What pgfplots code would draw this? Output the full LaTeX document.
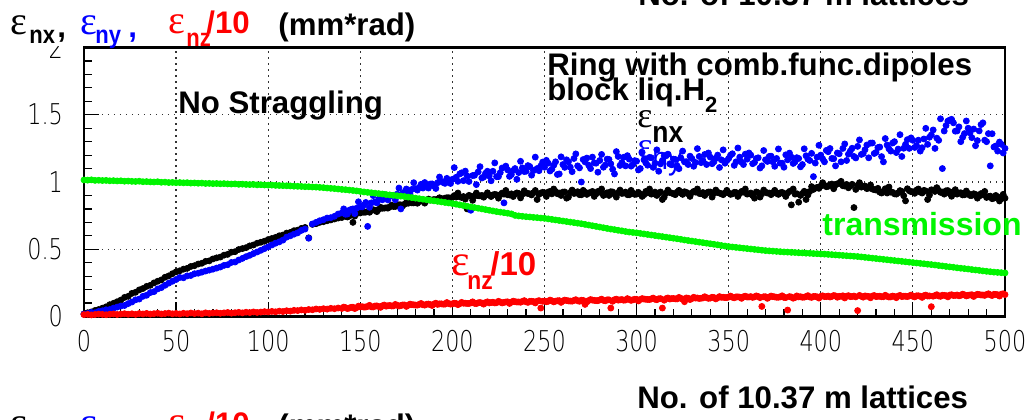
\documentclass[border=0pt]{standalone}
\usepackage{pgfplots}
\pgfplotsset{compat=1.18}
\usepackage{pgfplotstable}
\usepackage{graphicx}
\usepackage{fontspec}
\setmainfont{Liberation Sans}
\newfontfamily\epsfont{Liberation Serif}
\newfontfamily\tickfam[FakeStretch=0.78]{DejaVu Sans ExtraLight}
\newfontfamily\condfam[FakeStretch=0.88]{Liberation Sans}
\definecolor{rgreen}{RGB}{0,245,0}
\definecolor{rred}{RGB}{255,0,0}
\definecolor{rblue}{RGB}{0,0,255}
\newcommand\eps[1]{{\fontsize{#1}{#1}\selectfont\epsfont ε}}
\newcommand\bigb{\fontsize{15.6}{17}\selectfont\bfseries}
\newcommand\subb{\fontsize{12.5}{13}\selectfont\condfam\bfseries}
\newcommand\tickfont{\fontsize{14.3}{15}\selectfont\tickfam}

\pgfplotstableread{
x g k b r
0 1.015 0.020 0.018 0.014
2 1.014 0.028 0.022 0.016
4 1.016 0.034 0.030 0.012
6 1.012 0.045 0.028 0.015
8 1.013 0.052 0.038 0.018
10 1.011 0.062 0.042 0.016
12 1.012 0.072 0.050 0.013
14 1.009 0.088 0.052 0.017
16 1.010 0.098 0.062 0.019
18 1.008 0.110 0.070 0.015
20 1.009 0.122 0.078 0.018
22 1.006 0.142 0.082 0.021
24 1.007 0.150 0.096 0.017
26 1.005 0.172 0.108 0.020
28 1.004 0.180 0.124 0.016
30 1.006 0.198 0.130 0.022
32 1.002 0.208 0.150 0.019
34 1.003 0.224 0.158 0.023
36 1.001 0.232 0.178 0.018
38 1.000 0.250 0.185 0.021
40 1.002 0.262 0.205 0.024
42 0.998 0.272 0.215 0.019
44 0.999 0.292 0.232 0.022
46 0.996 0.302 0.248 0.025
48 0.997 0.318 0.262 0.020
50 0.995 0.332 0.275 0.023
52 0.996 0.340 0.290 0.019
54 0.994 0.352 0.288 0.024
56 0.995 0.358 0.302 0.021
58 0.992 0.372 0.305 0.026
60 0.993 0.378 0.318 0.022
62 0.991 0.390 0.322 0.025
64 0.992 0.396 0.330 0.020
66 0.989 0.410 0.338 0.027
68 0.990 0.414 0.345 0.023
70 0.988 0.428 0.352 0.026
72 0.989 0.436 0.360 0.028
74 0.987 0.442 0.368 0.024
76 0.988 0.456 0.380 0.027
78 0.986 0.462 0.385 0.030
80 0.985 0.478 0.402 0.025
82 0.986 0.482 0.405 0.028
84 0.983 0.498 0.420 0.031
86 0.984 0.505 0.432 0.027
88 0.982 0.512 0.445 0.032
90 0.981 0.525 0.455 0.029
92 0.982 0.532 0.468 0.034
94 0.979 0.545 0.480 0.030
96 0.980 0.552 0.492 0.033
98 0.978 0.560 0.505 0.036
100 0.977 0.572 0.518 0.034
102 0.977 0.580 0.532 0.038
104 0.975 0.588 0.545 0.035
106 0.974 0.600 0.555 0.040
108 0.973 0.606 0.568 0.037
110 0.972 0.620 0.590 0.043
112 0.971 0.625 0.600 0.040
114 0.969 0.638 0.612 0.046
116 0.968 0.642 0.622 0.044
118 0.967 0.655 0.640 0.049
120 0.965 0.662 0.650 0.046
122 0.965 0.585 0.582 0.052
124 0.963 0.685 0.688 0.050
126 0.962 0.690 0.700 0.056
128 0.960 0.700 0.712 0.053
130 0.958 0.705 0.720 0.058
132 0.955 0.712 0.732 0.055
134 0.953 0.718 0.735 0.061
136 0.951 0.725 0.745 0.058
138 0.948 0.732 0.762 0.063
140 0.945 0.736 0.770 0.060
142 0.943 0.745 0.760 0.066
144 0.940 0.748 0.790 0.063
146 0.937 0.700 0.800 0.069
148 0.934 0.765 0.805 0.066
150 0.930 0.770 0.816 0.072
152 0.926 0.775 0.830 0.070
154 0.923 0.780 0.670 0.075
156 0.920 0.788 0.845 0.072
158 0.917 0.790 0.852 0.078
160 0.914 0.796 0.870 0.074
162 0.911 0.805 0.868 0.080
164 0.907 0.808 0.885 0.077
166 0.904 0.815 0.895 0.082
168 0.901 0.818 0.900 0.079
170 0.898 0.826 0.910 0.084
172 0.895 0.830 0.800 0.081
174 0.892 0.835 0.925 0.086
176 0.888 0.842 0.930 0.083
178 0.884 0.845 0.945 0.088
180 0.880 0.850 0.950 0.085
182 0.876 0.854 0.960 0.090
184 0.872 0.858 0.955 0.087
186 0.868 0.862 0.975 0.091
188 0.864 0.866 0.985 0.088
190 0.860 0.870 0.970 0.093
192 0.856 0.874 0.995 0.090
194 0.852 0.877 1.005 0.094
196 0.848 0.880 0.990 0.092
198 0.844 0.883 1.010 0.096
200 0.840 0.886 1.020 0.094
202 0.835 0.888 1.035 0.097
204 0.830 0.890 1.060 0.095
206 0.825 0.892 1.010 0.099
208 0.820 0.800 1.045 0.097
210 0.815 0.895 0.790 0.101
212 0.810 0.896 1.050 0.098
214 0.805 0.898 1.075 0.102
216 0.800 0.900 1.030 0.100
218 0.795 0.901 1.065 0.104
220 0.790 0.903 1.045 0.101
222 0.785 0.904 1.080 0.106
224 0.780 0.905 1.040 0.103
226 0.776 0.906 1.070 0.107
228 0.772 0.910 0.845 0.105
230 0.768 0.905 1.090 0.109
232 0.763 0.912 1.055 0.106
234 0.752 0.908 1.100 0.110
236 0.748 0.915 1.070 0.108
238 0.745 0.910 1.105 0.112
240 0.742 0.918 1.080 0.109
242 0.740 0.912 1.115 0.113
244 0.737 0.920 1.085 0.111
246 0.735 0.870 1.100 0.114
248 0.732 0.918 1.120 0.063
250 0.730 0.920 1.110 0.115
252 0.726 0.925 1.140 0.113
254 0.722 0.912 1.095 0.117
256 0.718 0.930 1.150 0.114
258 0.714 0.918 1.060 0.118
260 0.710 0.925 1.130 0.116
262 0.706 0.880 1.165 0.119
264 0.702 0.922 1.110 0.115
266 0.698 0.915 1.175 0.120
268 0.694 0.928 1.120 0.117
270 0.690 0.905 1.000 0.121
272 0.685 0.925 1.150 0.090
274 0.680 0.918 1.125 0.119
276 0.675 0.930 1.185 0.122
278 0.670 0.912 1.140 0.118
280 0.665 0.925 1.160 0.123
282 0.660 0.900 1.110 0.120
284 0.655 0.920 1.170 0.124
286 0.650 0.928 1.135 0.063
288 0.646 0.910 1.060 0.125
290 0.641 0.922 1.190 0.122
292 0.637 0.915 1.145 0.126
294 0.632 0.925 1.120 0.123
296 0.628 0.905 1.170 0.127
298 0.625 0.918 1.130 0.124
300 0.622 0.910 1.155 0.128
302 0.618 0.912 1.100 0.126
304 0.614 0.905 1.165 0.130
306 0.610 0.920 1.125 0.127
308 0.606 0.910 1.180 0.131
310 0.602 0.925 1.140 0.128
312 0.598 0.915 1.080 0.132
314 0.594 0.870 1.160 0.063
316 0.590 0.918 1.195 0.133
318 0.586 0.922 1.135 0.130
320 0.582 0.912 1.170 0.134
322 0.578 0.925 1.120 0.131
324 0.574 0.918 1.180 0.135
326 0.569 0.928 1.150 0.110
328 0.565 0.912 1.130 0.136
330 0.561 0.920 1.175 0.133
332 0.557 0.925 1.145 0.137
334 0.553 0.915 1.190 0.134
336 0.549 0.922 1.160 0.138
338 0.545 0.918 1.130 0.140
340 0.541 0.926 1.185 0.137
342 0.537 0.915 1.150 0.141
344 0.533 0.923 1.200 0.139
346 0.528 0.912 1.165 0.143
348 0.524 0.920 1.140 0.141
350 0.520 0.918 1.175 0.145
352 0.517 0.912 1.210 0.143
354 0.514 0.922 1.150 0.146
356 0.511 0.915 1.185 0.144
358 0.508 0.925 1.130 0.147
360 0.505 0.910 1.170 0.145
362 0.502 0.918 1.200 0.148
364 0.499 0.880 1.145 0.146
366 0.496 0.920 1.180 0.149
368 0.493 0.912 1.120 0.075
370 0.490 0.925 1.165 0.147
372 0.488 0.918 1.190 0.144
374 0.486 0.922 1.150 0.148
376 0.484 0.915 1.175 0.143
378 0.482 0.920 1.140 0.146
380 0.480 0.912 1.110 0.142
382 0.479 0.918 1.165 0.048
384 0.477 0.830 1.185 0.145
386 0.476 0.910 1.150 0.141
388 0.474 0.850 1.175 0.146
390 0.473 0.915 1.130 0.143
392 0.471 0.870 1.195 0.148
394 0.470 0.930 1.160 0.145
396 0.468 0.945 1.040 0.149
398 0.467 0.960 1.185 0.146
400 0.465 0.970 1.200 0.150
402 0.464 0.975 1.150 0.148
404 0.462 0.968 1.225 0.152
406 0.460 0.985 1.175 0.149
408 0.458 0.978 1.120 0.153
410 0.456 0.990 1.210 0.150
412 0.454 0.972 1.250 0.154
414 0.452 0.982 1.160 0.151
416 0.450 0.970 1.230 0.148
418 0.448 0.810 1.190 0.152
420 0.446 0.975 1.265 0.044
422 0.443 0.962 1.205 0.150
424 0.440 0.970 1.240 0.153
426 0.437 0.955 1.180 0.149
428 0.434 0.948 1.290 0.152
430 0.431 0.940 1.220 0.148
432 0.428 0.925 1.260 0.151
434 0.425 0.930 1.150 0.147
436 0.422 0.918 1.275 0.150
438 0.419 0.925 1.230 0.146
440 0.416 0.912 1.300 0.149
442 0.413 0.920 1.245 0.152
444 0.410 0.930 1.190 0.148
446 0.407 0.860 1.280 0.151
448 0.404 0.935 1.250 0.153
450 0.401 0.928 1.310 0.150
452 0.398 0.940 1.270 0.154
454 0.395 0.925 1.230 0.151
456 0.392 0.938 1.320 0.155
458 0.389 0.870 1.280 0.152
460 0.386 0.942 1.350 0.073
462 0.383 0.930 1.250 0.156
464 0.379 0.938 1.310 0.153
466 0.376 0.925 1.100 0.158
468 0.372 0.935 1.420 0.155
470 0.369 0.915 1.460 0.159
472 0.366 0.928 1.440 0.156
474 0.362 0.910 1.380 0.160
476 0.359 0.920 1.300 0.157
478 0.356 0.905 1.360 0.161
480 0.353 0.915 1.400 0.158
482 0.349 0.900 1.330 0.162
484 0.346 0.908 1.270 0.159
486 0.343 0.895 1.380 0.163
488 0.339 0.905 1.440 0.160
490 0.336 0.885 1.300 0.164
492 0.333 0.895 1.120 0.161
494 0.330 0.880 1.260 0.165
496 0.328 0.890 1.230 0.162
498 0.326 0.875 1.280 0.166
500 0.324 0.880 1.250 0.163
}\data

\pgfplotstableread{
x k b r
141 0.748 0.800 0.070
143 0.740 0.762 0.059
145 0.755 0.796 0.068
147 0.747 0.765 0.059
149 0.773 0.853 0.077
151 0.788 0.815 0.073
153 0.776 0.848 0.071
155 0.775 0.812 0.083
157 0.794 0.899 0.071
159 0.780 0.845 0.079
161 0.812 0.891 0.068
163 0.806 0.906 0.085
165 0.806 0.867 0.080
167 0.828 0.900 0.078
169 0.818 0.868 0.090
171 0.831 0.955 0.078
173 0.822 0.916 0.086
175 0.846 0.948 0.075
177 0.859 0.910 0.092
179 0.845 0.995 0.087
181 0.842 0.940 0.085
183 0.859 0.983 0.097
185 0.843 0.996 0.085
187 0.873 0.955 0.093
189 0.866 0.986 0.082
191 0.863 0.952 0.099
193 0.883 1.037 0.094
195 0.872 0.996 0.092
197 0.883 1.027 0.104
199 0.872 0.989 0.092
201 0.899 1.107 0.099
203 0.918 1.005 0.088
205 0.885 1.068 0.105
207 0.873 1.081 0.099
209 0.901 1.004 0.097
211 0.864 1.048 0.109
213 0.918 0.981 0.096
215 0.897 1.114 0.104
217 0.887 1.037 0.092
219 0.920 1.080 0.109
221 0.892 1.009 0.104
223 0.908 1.142 0.101
225 0.880 1.040 0.113
227 0.918 1.104 0.101
229 0.937 1.118 0.108
231 0.904 1.042 0.097
233 0.892 1.086 0.114
235 0.919 1.020 0.108
237 0.882 1.154 0.106
239 0.935 1.078 0.118
241 0.915 1.122 0.105
243 0.904 1.051 0.113
245 0.937 1.185 0.101
247 0.908 1.084 0.118
249 0.923 1.148 0.113
251 0.893 1.161 0.110
253 0.930 1.082 0.122
255 0.948 1.124 0.109
257 0.913 1.056 0.117
259 0.900 1.187 0.105
261 0.926 1.109 0.122
263 0.888 1.150 0.116
265 0.940 1.077 0.114
267 0.918 1.209 0.125
269 0.906 1.105 0.113
271 0.938 1.167 0.120
273 0.908 1.178 0.109
275 0.923 1.100 0.126
277 0.893 1.142 0.120
279 0.930 1.073 0.118
281 0.948 1.205 0.129
283 0.913 1.126 0.117
285 0.900 1.168 0.124
287 0.926 1.095 0.113
289 0.888 1.226 0.129
291 0.940 1.123 0.124
293 0.918 1.184 0.121
295 0.906 1.196 0.133
297 0.938 1.118 0.120
299 0.908 1.159 0.128
301 0.923 1.090 0.116
303 0.893 1.221 0.133
305 0.930 1.142 0.128
307 0.948 1.183 0.126
309 0.913 1.109 0.137
311 0.900 1.239 0.125
313 0.926 1.135 0.133
315 0.888 1.196 0.121
317 0.940 1.207 0.138
319 0.918 1.128 0.133
321 0.906 1.168 0.131
323 0.938 1.099 0.142
325 0.908 1.230 0.130
327 0.923 1.151 0.138
329 0.893 1.192 0.126
331 0.930 1.117 0.143
333 0.948 1.248 0.138
335 0.913 1.144 0.136
337 0.900 1.205 0.147
339 0.926 1.216 0.135
341 0.888 1.136 0.143
343 0.940 1.177 0.131
345 0.918 1.108 0.148
347 0.906 1.239 0.143
349 0.938 1.160 0.141
351 0.908 1.200 0.152
353 0.923 1.124 0.139
355 0.893 1.253 0.146
357 0.930 1.148 0.135
359 0.948 1.207 0.151
361 0.913 1.216 0.145
363 0.900 1.136 0.142
365 0.926 1.175 0.153
367 0.888 1.104 0.140
369 0.940 1.234 0.147
371 0.918 1.153 0.135
373 0.906 1.192 0.152
375 0.938 1.117 0.146
377 0.908 1.246 0.143
379 0.923 1.140 0.154
381 0.893 1.202 0.141
383 0.930 1.215 0.148
385 0.948 1.138 0.136
387 0.913 1.181 0.153
389 0.900 1.113 0.147
391 0.931 1.247 0.144
393 0.904 1.170 0.155
395 0.966 1.213 0.142
397 0.954 1.141 0.149
399 0.953 1.273 0.137
401 0.995 1.172 0.154
403 0.965 1.235 0.148
405 0.980 1.249 0.145
407 0.950 1.173 0.156
409 0.987 1.216 0.143
411 1.005 1.150 0.150
413 0.970 1.283 0.138
415 0.957 1.207 0.155
417 0.983 1.251 0.149
419 0.945 1.179 0.146
421 0.995 1.313 0.157
423 0.968 1.211 0.144
425 0.951 1.275 0.151
427 0.978 1.289 0.139
429 0.943 1.212 0.156
431 0.953 1.256 0.150
433 0.918 1.189 0.147
435 0.950 1.323 0.158
437 0.963 1.247 0.145
439 0.923 1.290 0.152
441 0.910 1.219 0.140
443 0.936 1.352 0.157
445 0.898 1.251 0.151
447 0.950 1.315 0.148
449 0.928 1.328 0.159
451 0.916 1.257 0.146
453 0.948 1.311 0.154
455 0.918 1.255 0.142
457 0.933 1.399 0.159
459 0.903 1.333 0.153
461 0.940 1.387 0.151
463 0.958 1.326 0.162
465 0.923 1.470 0.150
467 0.910 1.379 0.157
469 0.936 1.453 0.146
471 0.894 1.466 0.162
473 0.943 1.378 0.157
475 0.918 1.410 0.154
477 0.904 1.332 0.166
479 0.933 1.454 0.153
481 0.900 1.365 0.160
483 0.913 1.394 0.149
485 0.880 1.308 0.165
487 0.914 1.427 0.160
489 0.930 1.311 0.157
491 0.892 1.360 0.169
493 0.876 1.359 0.156
495 0.900 1.268 0.164
497 0.859 1.297 0.152
499 0.908 1.216 0.169
}\dataodd

\begin{document}
\begin{tikzpicture}
\useasboundingbox (0,0) rectangle (517pt,-209.5pt);
\begin{axis}[
  at={(42pt,-158.25pt)}, anchor=south west,
  scale only axis, width=460.5pt, height=134.5pt,
  xmin=0, xmax=500, ymin=0, ymax=2,
  xtick={0,50,...,500}, ytick={0,0.5,1,1.5,2},
  minor x tick num=4, minor y tick num=4,
  tick align=inside, xtick pos=lower, ytick pos=lower,
  major tick length=7.5pt, minor tick length=4pt,
  axis line style={line width=1.3pt},
  every tick/.style={black, line width=0.6pt},
  grid=major,
  major grid style={black!80, line width=0.6pt, dash pattern=on 0.6pt off 2.4pt},
  ticklabel style={font=\tickfont},
  yticklabel style={xshift=-7pt},
  xticklabel style={yshift=-3.5pt},
  /pgf/number format/assume math mode=true,
]
\addplot[only marks, mark=*, mark size=1.5pt, color=black] table[x=x, y=k]{\data};
\addplot[only marks, mark=*, mark size=1.5pt, color=black] table[x=x, y=k]{\dataodd};
\addplot[only marks, mark=*, mark size=1.5pt, color=rblue] table[x=x, y=b]{\data};
\addplot[only marks, mark=*, mark size=1.5pt, color=rblue] table[x=x, y=b]{\dataodd};
\addplot[only marks, mark=*, mark size=1.5pt, color=rred] table[x=x, y=r]{\data};
\addplot[only marks, mark=*, mark size=1.5pt, color=rred] table[x=x, y=r]{\dataodd};
\addplot[only marks, mark=*, mark size=1.5pt, color=rgreen] table[x=x, y=g]{\data};
\end{axis}
\begin{scope}[x=0.5pt, y=-0.5pt]
  \fill[white] (0,0) rectangle (80,45.5);
  % title (and the top of the next panel's title)
  \foreach \dy in {0,401} {
    \node[anchor=base west, inner sep=0] at (10,34+\dy) {\eps{20}};
    \node[anchor=base west, inner sep=0] at (29,43+\dy) {\subb nx};
    \node[anchor=base west, inner sep=0] at (57,37+\dy) {\bigb ,};
    \node[anchor=base west, inner sep=0, text=rblue] at (80,34+\dy) {\eps{20}};
    \node[anchor=base west, inner sep=0, text=rblue] at (95,43+\dy) {\subb ny};
    \node[anchor=base west, inner sep=0, text=rblue] at (128,37+\dy) {\bigb ,};
    \node[anchor=base west, inner sep=0, text=rred] at (168,33+\dy) {\eps{20}};
    \node[anchor=base west, inner sep=0, text=rred] at (186,46+\dy) {\subb nz};
    \node[anchor=base west, inner sep=0, text=rred] at (206,33+\dy) {\bigb /10};
    \node[anchor=base west, inner sep=0] at (278,35.5+\dy) {\bigb (mm*rad)};
  }
  \node[anchor=base west, inner sep=0] at (638,5) {\bigb No. of 10.37 m lattices};
  \node[anchor=base west, inner sep=0] at (637,408) {\bigb No. of 10.37 m lattices};
  % inner labels
  \node[anchor=base west, inner sep=0] at (178,113) {\bigb No Straggling};
  \node[anchor=base west, inner sep=0] at (547,75) {\bigb Ring with comb.func.dipoles};
  \node[anchor=base west, inner sep=0] at (547,100) {\bigb block liq.H\raisebox{-6pt}{\fontsize{11}{11}\selectfont 2}};
  \node[anchor=base west, inner sep=0] at (637,127) {\eps{18}};
  \node[anchor=base west, inner sep=0] at (652,142) {\fontsize{15}{15}\selectfont\condfam\bfseries nx};
  \node[anchor=base west, inner sep=0, text=rblue] at (637,157) {\eps{18}};
  \node[anchor=base west, inner sep=0, text=rblue] at (652,169) {\fontsize{16}{16}\selectfont\condfam ny};
  \node[anchor=base west, inner sep=0, text=rgreen] at (822,235) {\fontsize{16}{17}\selectfont\bfseries transmission};
  \node[anchor=base west, inner sep=0, text=rred] at (451,275) {\eps{22}};
  \node[anchor=base west, inner sep=0, text=rred] at (467,289) {\fontsize{13}{13}\selectfont\condfam\bfseries nz};
  \node[anchor=base west, inner sep=0, text=rred] at (490,275) {\fontsize{16.5}{17}\selectfont\bfseries /10};
\end{scope}
\end{tikzpicture}
\end{document}
